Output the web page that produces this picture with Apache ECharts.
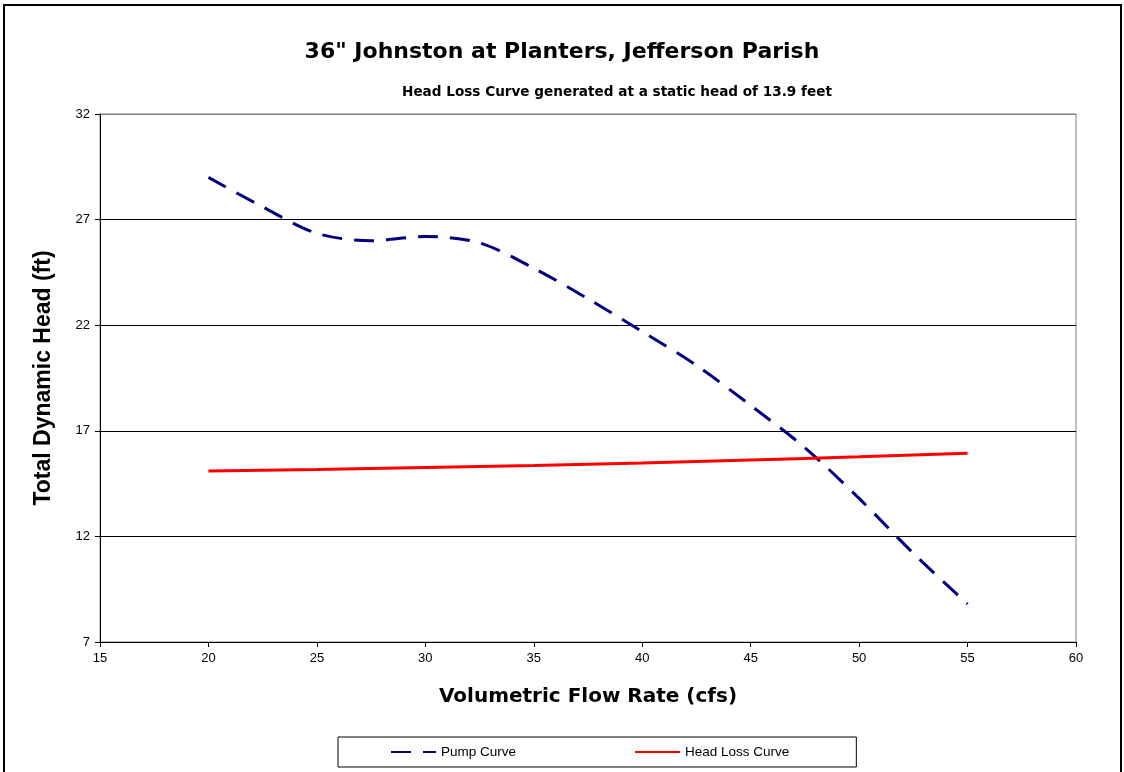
<!DOCTYPE html>
<html>
<head>
<meta charset="utf-8">
<script src="https://cdn.jsdelivr.net/npm/echarts@6/dist/echarts.min.js"></script>
<style>
html,body{margin:0;padding:0;background:#fff;}
#c{width:1124px;height:772px;}
</style>
</head>
<body>
<div id="c"></div>
<script>
var flowPump = [20, 22.5, 25, 27.5, 30, 32.5, 35, 37.5, 40, 42.5, 45, 47.5, 50, 52.5, 55];
var headPump = [29.0, 27.6, 26.35, 26.0, 26.2, 25.9, 24.7, 23.25, 21.7, 20.1, 18.2, 16.2, 13.8, 11.2, 8.8];
var flowLoss = [20, 25, 30, 35, 40, 45, 50, 55];
var headLoss = [15.10, 15.17, 15.26, 15.36, 15.48, 15.62, 15.77, 15.94];
var titleText = '36" Johnston at Planters, Jefferson Parish';
var subtitleText = 'Head Loss Curve generated at a static head of 13.9 feet';
var xName = 'Volumetric Flow Rate (cfs)';
var yName = 'Total Dynamic Head (ft)';
var seriesNames = ['Pump Curve', 'Head Loss Curve'];

var FONT = 'Arial, "Liberation Sans", sans-serif';
var WIDE = '"DejaVu Sans", Arial, sans-serif';
var chart = echarts.init(document.getElementById('c'));
chart.setOption({
  animation: false,
  backgroundColor: '#fff',
  textStyle: {fontFamily: FONT},
  title: [
    {text: titleText, left: 'center', top: 36,
     textStyle: {fontFamily: WIDE, fontSize: 22, fontWeight: 'bold', color: '#000'}},
    {text: subtitleText, left: 397, top: 80,
     textStyle: {fontFamily: WIDE, fontSize: 13.6, fontWeight: 'bold', color: '#000'}}
  ],
  graphic: [{
    type: 'rect', silent: true,
    shape: {x: 4, y: 5, width: 1117, height: 820},
    style: {fill: 'none', stroke: '#000', lineWidth: 2}
  }],
  legend: {
    left: 338, top: 737,
    itemWidth: 45, itemHeight: 10, itemGap: 118,
    padding: [8, 67, 8, 52],
    borderColor: '#000', borderWidth: 1,
    itemStyle: {opacity: 0},
    textStyle: {fontFamily: FONT, fontSize: 13.5, color: '#000'},
    data: seriesNames
  },
  grid: {left: 100, right: 48, top: 114, bottom: 130, show: true, borderColor: '#808080', borderWidth: 1},
  xAxis: {
    type: 'value', min: 15, max: 60, interval: 5,
    name: xName, nameLocation: 'middle', nameGap: 45,
    nameTextStyle: {fontFamily: WIDE, fontSize: 20, fontWeight: 'bold', color: '#000'},
    axisLine: {lineStyle: {color: '#000', width: 1}},
    axisTick: {show: true, length: 5, lineStyle: {color: '#000'}},
    axisLabel: {fontFamily: FONT, fontSize: 13, color: '#000', margin: 10},
    splitLine: {show: false}
  },
  yAxis: {
    type: 'value', min: 7, max: 32, interval: 5,
    name: yName, nameLocation: 'middle', nameGap: 45, nameRotate: 90,
    nameTextStyle: {fontFamily: FONT, fontSize: 23, fontWeight: 'bold', color: '#000'},
    axisLine: {show: true, lineStyle: {color: '#000', width: 1}},
    axisTick: {show: true, length: 5, lineStyle: {color: '#000'}},
    axisLabel: {fontFamily: FONT, fontSize: 13, color: '#000', margin: 10},
    splitLine: {show: true, lineStyle: {color: ['#000', '#000', '#000', '#000', '#000', '#808080'], width: 1}}
  },
  series: [
    {
      name: seriesNames[0], type: 'line', showSymbol: false, symbol: 'none',
      smooth: 0.3,
      data: flowPump.map(function (x, i) { return [x, headPump[i]]; }),
      lineStyle: {color: '#000080', width: 3, type: [20, 12]},
      itemStyle: {color: '#000080'}
    },
    {
      name: seriesNames[1], type: 'line', showSymbol: false, symbol: 'none',
      smooth: true,
      data: flowLoss.map(function (x, i) { return [x, headLoss[i]]; }),
      lineStyle: {color: '#ff0000', width: 3, type: 'solid'},
      itemStyle: {color: '#ff0000'}
    }
  ]
});
</script>
</body>
</html>
